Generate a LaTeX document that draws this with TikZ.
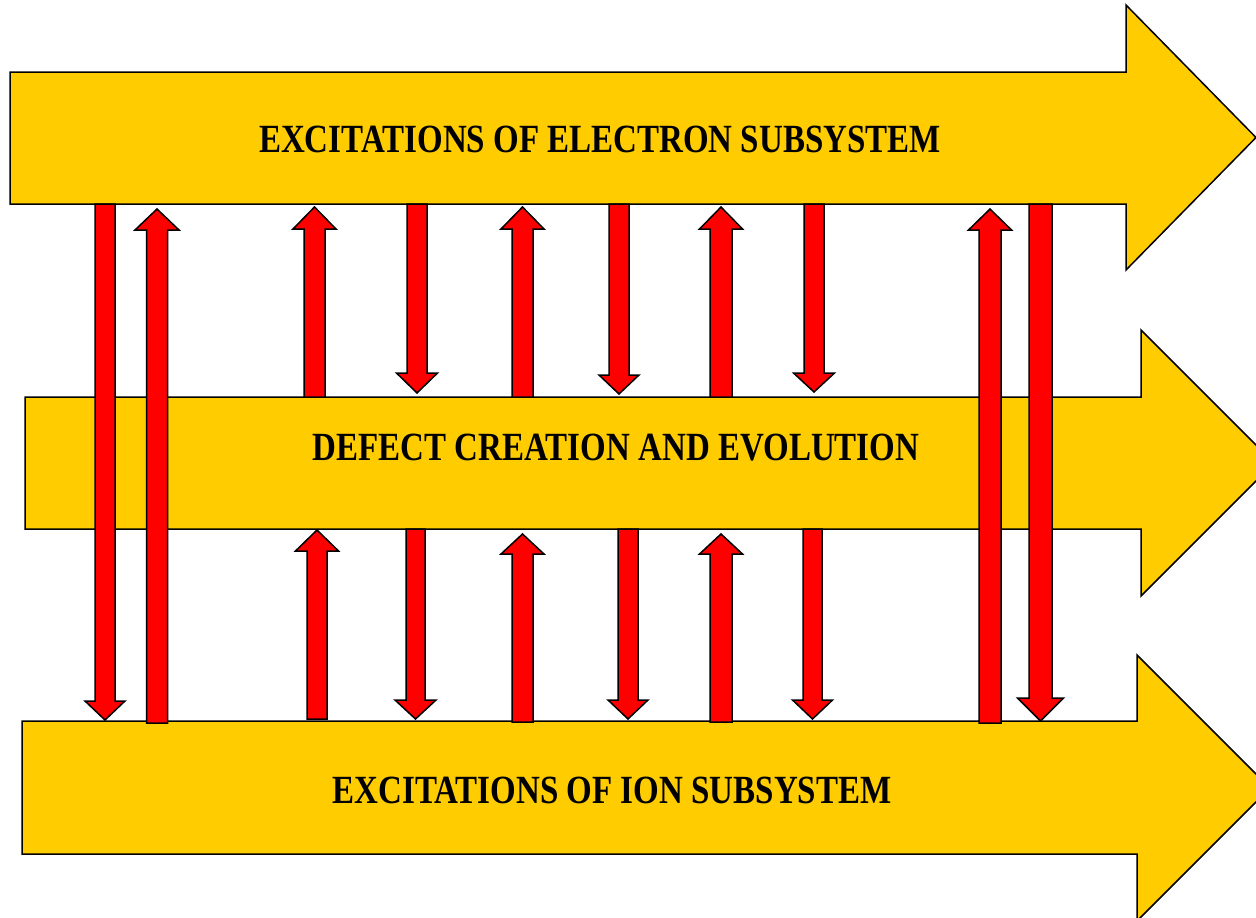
\documentclass[tikz,border=0pt]{standalone}
\usepackage{fontspec}
\setmainfont{Liberation Serif}[FakeStretch=0.825]
\definecolor{bandyellow}{HTML}{FFCC00}
\definecolor{redarr}{HTML}{FF0000}
\tikzset{
  bandshape/.style={fill=bandyellow,draw=black,line width=1.5pt,line join=miter},
  redblk/.style={fill=redarr,draw=black,line width=1.5pt,line join=miter},
  lbl/.style={font=\bfseries\fontsize{40}{48}\selectfont,inner sep=0pt}
}
% x, y-bottom, y-tip, shaft half width, head half width, head length
\newcommand\blkup[6]{%
  \draw[redblk] (#1-#4,#2) -- (#1-#4,#3+#6) -- (#1-#5,#3+#6) -- (#1,#3)
    -- (#1+#5,#3+#6) -- (#1+#4,#3+#6) -- (#1+#4,#2) -- cycle;}
% x, y-top, y-tip, shaft half width, head half width, head length
\newcommand\blkdown[6]{%
  \draw[redblk] (#1-#4,#2) -- (#1-#4,#3-#6) -- (#1-#5,#3-#6) -- (#1,#3)
    -- (#1+#5,#3-#6) -- (#1+#4,#3-#6) -- (#1+#4,#2) -- cycle;}
\begin{document}
\begin{tikzpicture}[x=1pt,y=-1pt]
\useasboundingbox (0,0) rectangle (1256,918);
\clip (0,0) rectangle (1256,918);
% yellow band arrows
\draw[bandshape] (10,72) -- (1126,72) -- (1126,5) -- (1256,137.5) -- (1126,270) -- (1126,204) -- (10,204) -- cycle;
\draw[bandshape] (22,721) -- (1137,721) -- (1137,655) -- (1270,788) -- (1137,921) -- (1137,854) -- (22,854) -- cycle;
\draw[bandshape] (25,397) -- (1141,397) -- (1141,330) -- (1274,463) -- (1141,596) -- (1141,529) -- (25,529) -- cycle;
% labels
\node[lbl] (electron) at (600,139) {EXCITATIONS OF ELECTRON SUBSYSTEM};
\node[lbl] (defect) at (616,448) {DEFECT CREATION AND EVOLUTION};
\node[lbl] (ion) at (612,790) {EXCITATIONS OF ION SUBSYSTEM};
% long red arrows
\blkdown{105}{204}{720}{10}{20}{19}
\blkup{157}{723}{209}{10.5}{22}{21}
\blkup{990}{723}{209}{11}{21.5}{21}
\blkdown{1040.5}{204}{721}{11.5}{23}{23}
% upper band
\blkup{314.5}{397}{207}{10.5}{21.5}{22}
\blkdown{417}{204}{393}{10}{20.5}{20}
\blkup{522.5}{397}{207}{10.5}{21.5}{22}
\blkdown{619}{204}{394}{10}{20}{19}
\blkup{721}{397}{207}{11}{21.5}{22}
\blkdown{814}{204}{392}{10}{20.5}{19}
% lower band
\blkup{317}{719}{530}{10}{21.5}{21}
\blkdown{415.5}{529}{719}{9.5}{20.5}{19}
\blkup{522.5}{722}{534}{10.5}{21.5}{20}
\blkdown{628}{529}{719}{10}{20}{19}
\blkup{721}{722}{534}{11}{21.5}{20}
\blkdown{812.5}{529}{719}{9.5}{20}{19}
\end{tikzpicture}
\end{document}
